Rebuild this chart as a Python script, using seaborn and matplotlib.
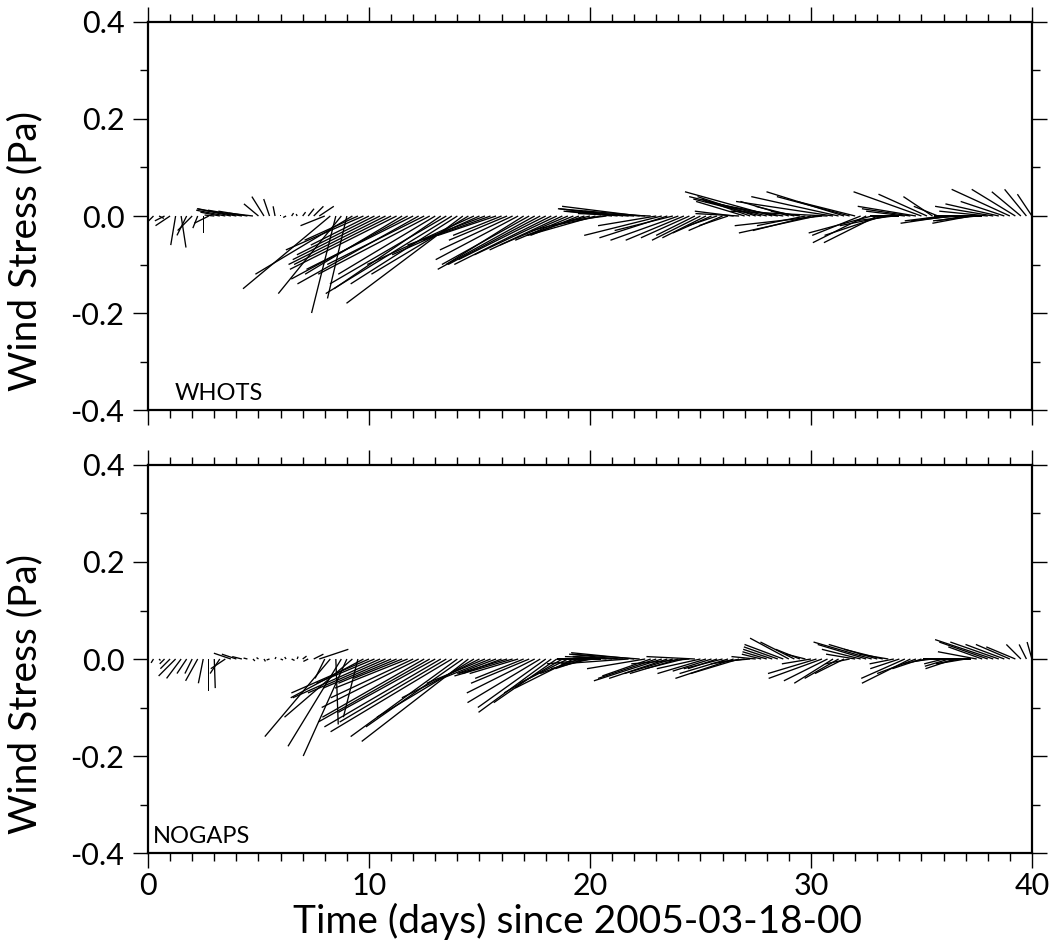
import numpy as np
import seaborn as sns
import matplotlib.pyplot as plt
from matplotlib.ticker import MultipleLocator, FormatStrFormatter

# wind stress sticks, 6-hourly, (u, v) in Pa, one line per day
u_whots = [
    0.00, -0.01, 0.01, -0.02,      # day 0
    -0.03, -0.01, 0.01, -0.02,     # day 1
    -0.03, -0.01, 0.00, -0.03,     # day 2
    -0.02, -0.04, -0.06, -0.07,    # day 3
    -0.08, -0.07, -0.06, -0.05,    # day 4
    -0.03, -0.025, -0.012, -0.004, # day 5
    0.00, -0.006, 0.004, -0.002,   # day 6
    0.006, 0.012, 0.02, 0.03,      # day 7
    -0.05, -0.18, -0.05, -0.13,    # day 8
    -0.04, -0.20, -0.11, -0.16,    # day 9
    -0.12, -0.16, -0.18, -0.20,    # day 10
    -0.20, -0.22, -0.20, -0.24,    # day 11
    -0.22, -0.25, -0.20, -0.23,    # day 12
    -0.20, -0.22, -0.24, -0.26,    # day 13
    -0.22, -0.24, -0.20, -0.22,    # day 14
    -0.18, -0.16, -0.14, -0.12,    # day 15
    -0.10, -0.12, -0.15, -0.17,    # day 16
    -0.16, -0.18, -0.20, -0.19,    # day 17
    -0.18, -0.20, -0.17, -0.15,    # day 18
    -0.14, -0.12, -0.10, -0.12,    # day 19
    -0.12, -0.14, -0.10, -0.08,    # day 20
    -0.10, -0.12, -0.08, -0.06,    # day 21
    -0.14, -0.16, -0.18, -0.15,    # day 22
    -0.12, -0.16, -0.14, -0.12,    # day 23
    -0.14, -0.12, -0.10, -0.08,    # day 24
    -0.10, -0.09, -0.08, -0.06,    # day 25
    -0.07, -0.06, -0.08, -0.09,    # day 26
    -0.10, -0.10, -0.12, -0.14,    # day 27
    -0.16, -0.18, -0.15, -0.12,    # day 28
    -0.10, -0.08, -0.06, -0.10,    # day 29
    -0.12, -0.16, -0.18, -0.20,    # day 30
    -0.20, -0.18, -0.16, -0.15,    # day 31
    -0.12, -0.10, -0.11, -0.13,    # day 32
    -0.11, -0.12, -0.10, -0.08,    # day 33
    -0.06, -0.08, -0.10, -0.12,    # day 34
    -0.14, -0.10, -0.06, -0.05,    # day 35
    -0.08, -0.10, -0.09, -0.07,    # day 36
    -0.06, -0.08, -0.09, -0.10,    # day 37
    -0.10, -0.12, -0.11, -0.09,    # day 38
    -0.12, -0.09, -0.06, -0.045,   # day 39
    -0.03,                         # day 40
]
v_whots = [
    -0.01, -0.01, -0.005, -0.01,
    -0.02, -0.06, -0.065, -0.04,
    -0.03, -0.025, -0.035, -0.015,
    0.002, 0.008, 0.012, 0.015,
    0.015, 0.012, 0.01, 0.006,
    0.025, 0.04, 0.035, 0.02,
    0.003, -0.003, 0.006, 0.004,
    0.008, 0.015, 0.02, 0.02,
    -0.02, -0.15, -0.20, -0.16,
    -0.17, -0.12, -0.05, -0.07,
    -0.06, -0.08, -0.09, -0.10,
    -0.10, -0.11, -0.12, -0.13,
    -0.11, -0.14, -0.10, -0.12,
    -0.12, -0.15, -0.14, -0.16,
    -0.14, -0.18, -0.12, -0.10,
    -0.08, -0.06, -0.05, -0.04,
    -0.04, -0.05, -0.07, -0.09,
    -0.10, -0.10, -0.11, -0.10,
    -0.09, -0.10, -0.08, -0.07,
    -0.06, -0.05, -0.04, -0.04,
    -0.03, -0.04, -0.02, -0.01,
    0.01, 0.015, 0.01, 0.005,
    0.01, 0.02, 0.015, 0.005,
    -0.02, -0.04, -0.045, -0.03,
    -0.05, -0.05, -0.045, -0.04,
    -0.05, -0.045, -0.035, -0.02,
    -0.03, -0.02, 0.01, 0.005,
    0.03, 0.035, 0.04, 0.035,
    0.04, 0.05, 0.03, 0.02,
    0.03, 0.02, 0.01, -0.02,
    -0.03, -0.035, -0.02, 0.01,
    0.03, 0.04, 0.05, 0.04,
    0.03, -0.04, -0.055, -0.035,
    -0.055, -0.04, -0.02, -0.01,
    0.00, 0.01, 0.015, 0.02,
    0.05, 0.045, 0.04, 0.02,
    -0.01, -0.015, -0.01, -0.005,
    -0.01, -0.015, -0.01, 0.00,
    0.01, 0.02, 0.025, 0.03,
    0.055, 0.055, 0.05, 0.055,
    0.045,
]

u_nogaps = [
    0.00, -0.005, 0.003, -0.01,
    -0.02, -0.035, -0.03, -0.02,
    -0.015, -0.025, -0.01, 0.00,
    0.002, -0.02, -0.03, -0.035,
    -0.03, -0.02, -0.008, 0.004,
    -0.004, 0.003, -0.006, 0.002,
    0.005, -0.003, 0.006, 0.002,
    0.008, -0.01, 0.02, 0.06,
    -0.02, -0.135, 0.005, -0.11,
    -0.09, -0.14, -0.03, -0.15,
    -0.16, -0.12, -0.18, -0.16,
    -0.14, -0.12, -0.10, -0.15,
    -0.17, -0.20, -0.21, -0.23,
    -0.20, -0.24, -0.22, -0.25,
    -0.22, -0.20, -0.22, -0.20,
    -0.16, -0.12, -0.10, -0.08,
    -0.08, -0.10, -0.12, -0.10,
    -0.10, -0.12, -0.14, -0.15,
    -0.14, -0.15, -0.13, -0.12,
    -0.10, -0.12, -0.08, -0.06,
    -0.08, -0.10, -0.09, -0.07,
    -0.08, -0.10, -0.12, -0.14,
    -0.13, -0.14, -0.12, -0.10,
    -0.12, -0.14, -0.12, -0.10,
    -0.10, -0.08, -0.12, -0.10,
    -0.09, -0.10, -0.08, -0.06,
    -0.08, -0.10, -0.12, -0.10,
    -0.07, -0.06, -0.05, -0.04,
    -0.05, -0.06, -0.07, -0.08,
    -0.08, -0.07, -0.05, -0.04,
    -0.06, -0.10, -0.11, -0.09,
    -0.08, -0.07, -0.06, -0.05,
    -0.06, -0.08, -0.10, -0.12,
    -0.10, -0.08, -0.06, -0.05,
    -0.06, -0.09, -0.10, -0.08,
    -0.06, -0.05, -0.04, -0.03,
    -0.04, -0.05, -0.06, -0.05,
    -0.06, -0.07, -0.08, -0.07,
    -0.10, -0.12, -0.10, -0.08,
    -0.07, -0.06, -0.03, -0.015,
    -0.01,
]
v_nogaps = [
    -0.005, -0.008, -0.003, -0.01,
    -0.02, -0.035, -0.04, -0.03,
    -0.03, -0.045, -0.05, -0.065,
    -0.06, -0.03, -0.02, 0.012,
    0.01, 0.005, 0.002, -0.004,
    0.003, -0.005, -0.002, 0.004,
    -0.002, 0.004, -0.003, 0.005,
    0.006, -0.005, 0.01, 0.02,
    -0.04, -0.16, -0.135, -0.18,
    -0.20, -0.12, -0.12, -0.08,
    -0.07, -0.05, -0.08, -0.07,
    -0.06, -0.05, -0.04, -0.06,
    -0.08, -0.10, -0.12, -0.13,
    -0.11, -0.14, -0.13, -0.15,
    -0.16, -0.14, -0.17, -0.12,
    -0.08, -0.05, -0.04, -0.03,
    -0.03, -0.03, -0.035, -0.03,
    -0.04, -0.05, -0.07, -0.09,
    -0.10, -0.11, -0.09, -0.07,
    -0.05, -0.06, -0.03, -0.02,
    -0.02, -0.01, 0.00, 0.005,
    0.005, 0.01, 0.005, -0.01,
    0.013, 0.01, -0.02, -0.035,
    -0.04, -0.045, -0.04, -0.03,
    -0.03, -0.02, -0.01, 0.005,
    -0.02, -0.03, -0.025, -0.02,
    -0.02, -0.03, -0.04, -0.03,
    -0.01, -0.005, 0.005, 0.01,
    0.015, 0.02, 0.025, 0.03,
    0.043, 0.035, 0.02, 0.01,
    -0.01, -0.03, -0.04, -0.045,
    -0.05, -0.04, -0.03, -0.01,
    0.01, 0.02, 0.03, 0.035,
    0.03, 0.02, 0.01, -0.01,
    -0.02, -0.04, -0.05, -0.03,
    -0.02, -0.01, -0.005, 0.00,
    -0.01, -0.015, -0.02, -0.01,
    -0.01, 0.00, 0.015, 0.025,
    0.035, 0.04, 0.035, 0.03,
    0.03, 0.025, 0.03, 0.03,
    0.035,
]

panels = ["WHOTS", "NOGAPS"]
days = np.arange(len(u_whots)) * 0.25

sns.set_style("ticks")
plt.rcParams['font.family'] = ['Lato', 'DejaVu Sans']
plt.rcParams['font.weight'] = 'normal'
plt.rcParams['axes.labelweight'] = 'normal'
plt.rcParams['axes.unicode_minus'] = False
plt.rcParams['text.color'] = 'black'
plt.rcParams['axes.labelcolor'] = 'black'
plt.rcParams['xtick.color'] = 'black'
plt.rcParams['ytick.color'] = 'black'

fig = plt.figure(figsize=(10.57, 9.48), dpi=100)
ax1 = fig.add_axes([0.140, 0.5675, 0.8363, 0.4093])
ax2 = fig.add_axes([0.140, 0.1002, 0.8363, 0.4093])

for ax, name, u, v in [(ax1, panels[0], u_whots, v_whots),
                       (ax2, panels[1], u_nogaps, v_nogaps)]:
    ax.quiver(days, np.zeros(len(days)), u, v, angles='uv', scale_units='y', scale=1,
              pivot='tail', headwidth=0, headlength=0, headaxislength=0,
              width=0.0015, color='black')
    ax.set_xlim(0, 40)
    ax.set_ylim(-0.4, 0.4)
    ax.xaxis.set_major_locator(MultipleLocator(10))
    ax.xaxis.set_minor_locator(MultipleLocator(1))
    ax.yaxis.set_major_locator(MultipleLocator(0.2))
    ax.yaxis.set_minor_locator(MultipleLocator(0.1))
    ax.yaxis.set_major_formatter(FormatStrFormatter('%.1f'))
    ax.tick_params(which='both', direction='out', top=True, right=True)
    ax.tick_params(which='major', length=11, width=1.0, labelsize=22, pad=6)
    ax.tick_params(which='minor', length=6, width=1.0)
    for sp in ax.spines.values():
        sp.set_linewidth(1.6)
        sp.set_color('black')
    ax.set_ylabel('Wind Stress (Pa)', fontsize=28)
    ax.yaxis.set_label_coords(-0.118, 0.41)
    ax.text(0.03 if name == "WHOTS" else 0.006, 0.015, name, transform=ax.transAxes,
            fontsize=17, ha='left', va='bottom')

ax1.tick_params(labelbottom=False)
ax2.tick_params(axis='x', which='major', pad=3)
ax2.set_xlabel('Time (days) since 2005-03-18-00', fontsize=28)
ax2.xaxis.set_label_coords(0.486, -0.128)

fig.savefig('out.png', dpi=100)
